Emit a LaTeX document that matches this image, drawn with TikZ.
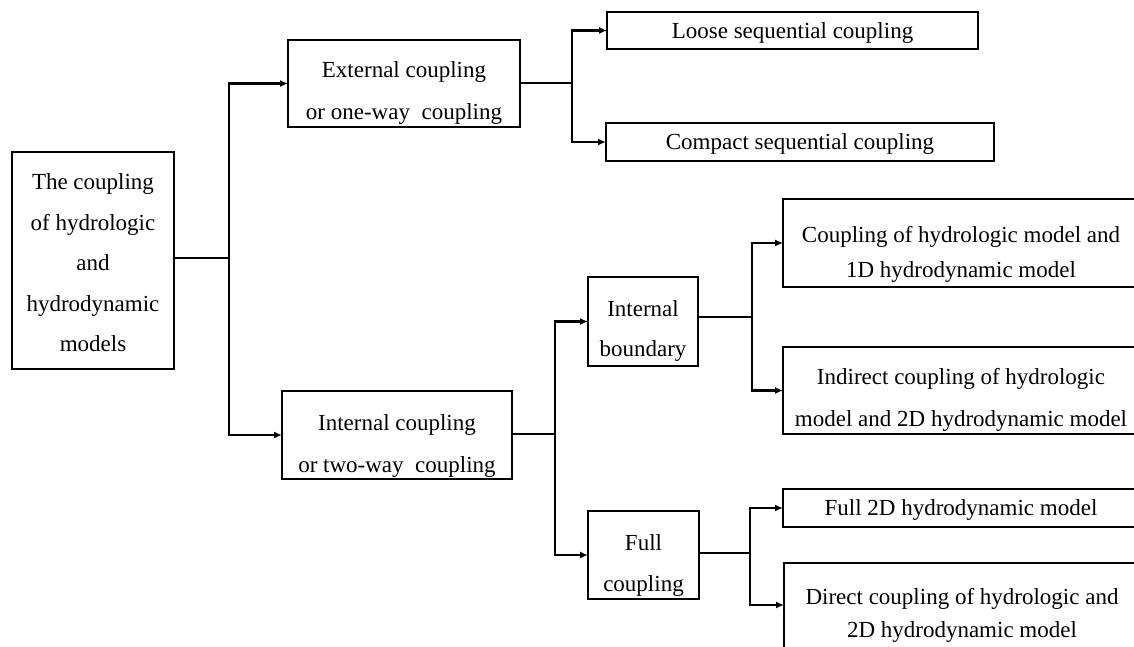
\documentclass[tikz,border=0pt]{standalone}
\usepackage{fontspec}
\setmainfont{Liberation Serif}
\usetikzlibrary{arrows.meta}
\newcommand{\lowtext}[2]{\raisebox{-#1}[\height][\depth]{\begin{tabular}{@{}c@{}}#2\end{tabular}}}
\newcommand{\lowline}[2]{\raisebox{-#1}[\height][\depth]{#2}}
\begin{document}
\begin{tikzpicture}[x=1pt,y=-1pt,
  box/.style={draw, line width=1.4pt, inner sep=0pt, outer sep=0pt, align=center, font=\fontsize{23}{41}\selectfont},
  conn/.style={line width=2.2pt},
  arr/.style={conn, -{Latex[length=8pt,width=7pt]}}]
\useasboundingbox (0,0) rectangle (1134,646);
\fill[white] (0,0) rectangle (1134,646);
\clip (0,0) rectangle (1134,646);
% nodes
\node[box, minimum width=162pt, minimum height=217pt, font=\fontsize{23}{40.5}\selectfont] (root) at (93,260.5) {\lowtext{2pt}{The coupling\\of hydrologic\\and\\hydrodynamic\\models}};
\node[box, minimum width=232pt, minimum height=87pt, font=\fontsize{23}{42}\selectfont] (ext) at (404,83.5) {\lowtext{7pt}{External coupling\\or one-way~~coupling}};
\node[box, minimum width=230pt, minimum height=88pt, font=\fontsize{23}{42}\selectfont] (int) at (397,435) {\lowtext{8pt}{Internal coupling\\or two-way~~coupling}};
\node[box, minimum width=371pt, minimum height=37pt] (loose) at (792.5,30.5) {\lowline{2pt}{Loose sequential coupling}};
\node[box, minimum width=388pt, minimum height=38pt] (compact) at (800,142) {\lowline{2pt}{Compact sequential coupling}};
\node[box, minimum width=110pt, minimum height=89pt, font=\fontsize{23}{40}\selectfont] (ib) at (643,321.5) {\lowtext{7pt}{Internal\\boundary}};
\node[box, minimum width=111pt, minimum height=88pt, font=\fontsize{23}{41}\selectfont] (fc) at (643.5,555) {\lowtext{8pt}{Full\\coupling}};
\node[box, minimum width=356pt, minimum height=88pt, font=\fontsize{23}{35}\selectfont] (c1d) at (961,243) {\lowtext{10pt}{Coupling of hydrologic model and\\1D hydrodynamic model}};
\node[box, minimum width=356pt, minimum height=87pt, font=\fontsize{23}{42}\selectfont] (indirect) at (961,390.5) {\lowtext{7pt}{Indirect coupling of hydrologic\\model and 2D hydrodynamic model}};
\node[box, minimum width=356pt, minimum height=38pt] (full2d) at (961,508) {\lowline{2pt}{Full 2D hydrodynamic model}};
\node[box, minimum width=356pt, minimum height=92pt, font=\fontsize{23}{33}\selectfont] (direct) at (962,609) {\lowtext{5pt}{Direct coupling of hydrologic and\\2D hydrodynamic model}};
% junctions
\coordinate (j1) at (229,258);
\coordinate (j2) at (572,83);
\coordinate (j3) at (555,434);
\coordinate (j4) at (752,317);
\coordinate (j5) at (750,553);
% connectors
\draw[conn] (root.east |- j1) -- (j1);
\draw[arr] (j1) |- (ext.west);
\draw[arr] (j1) |- (int.west);
\draw[conn] (ext.east |- j2) -- (j2);
\draw[arr] (j2) |- (loose.west);
\draw[arr] (j2) |- (compact.west);
\draw[conn] (int.east |- j3) -- (j3);
\draw[arr] (j3) |- (ib.west);
\draw[arr] (j3) |- (fc.west);
\draw[conn] (ib.east |- j4) -- (j4);
\draw[arr] (j4) |- (c1d.west);
\draw[arr] (j4) |- (indirect.west);
\draw[conn] (fc.east |- j5) -- (j5);
\draw[arr] (j5) |- (full2d.west);
\draw[arr] (j5) |- ([yshift=4pt]direct.west);
\end{tikzpicture}
\end{document}
